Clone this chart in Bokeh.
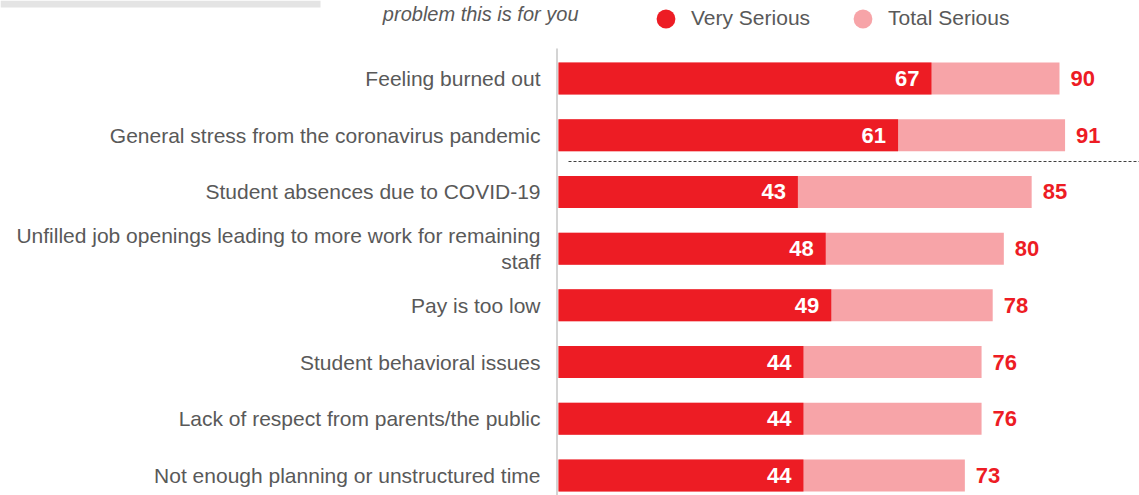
from bokeh.plotting import figure
from bokeh.models import ColumnDataSource, Range1d, Legend, LegendItem
from bokeh.core.properties import value
from bokeh.embed import file_html
from bokeh.resources import INLINE

categories = [
    "Feeling burned out",
    "General stress from the coronavirus pandemic",
    "Student absences due to COVID-19",
    "Unfilled job openings leading to more work for remaining\nstaff",
    "Pay is too low",
    "Student behavioral issues",
    "Lack of respect from parents/the public",
    "Not enough planning or unstructured time",
]
very_serious = [67, 61, 43, 48, 49, 44, 44, 44]
total_serious = [90, 91, 85, 80, 78, 76, 76, 73]
title_fragment = "problem this is for you"

RED = "#ED1C24"
PINK = "#F7A4A8"
GRAY_TEXT = "#595959"
FONT = value("Liberation Sans")

W, H = 1139, 495
x0_px = 558.0
sx = (1059.0 - 558.0) / 90.0
row0_px = 78.0
row_step = 56.71

def xd(px):
    return (px - x0_px) / sx

def yd(py):
    return (py - row0_px) / row_step

rows = list(range(len(categories)))
src = ColumnDataSource(dict(
    y=rows, cat=categories, very=very_serious, total=total_serious,
    very_txt=[str(v) for v in very_serious],
    total_txt=[str(v) for v in total_serious],
    zero=[0] * len(rows),
))

p = figure(width=W, height=H, output_backend="svg", toolbar_location=None,
           x_axis_type=None, y_axis_type=None, min_border=0,
           x_range=Range1d(xd(0), xd(W)), y_range=Range1d(yd(H), yd(0)))
p.outline_line_color = None
p.xgrid.visible = False
p.ygrid.visible = False
p.background_fill_color = "white"
p.border_fill_color = "white"

# top-left gray band (cropped header remnant)
p.quad(left=[xd(0)], right=[xd(320)], top=[yd(0)], bottom=[yd(7)],
       fill_color="#e4e4e4", line_color=None)

# title fragment
p.text(x=[xd(578)], y=[yd(2)], text=[title_fragment], text_align="right",
       text_baseline="top", text_font=FONT, text_font_size="20px",
       text_font_style="italic", text_color=GRAY_TEXT)

bar_h = 32.0 / row_step
r_total = p.hbar(y="y", left="zero", right="total", height=bar_h, source=src,
                 fill_color=PINK, line_color=None)
r_very = p.hbar(y="y", left="zero", right="very", height=bar_h, source=src,
                fill_color=RED, line_color=None)

# category axis line
p.segment(x0=[xd(556.5)], x1=[xd(556.5)], y0=[yd(48)], y1=[yd(H)],
          line_color="#d4d4d4", line_width=2)

# dashed separator
p.segment(x0=[xd(568)], x1=[xd(W)], y0=[yd(161)], y1=[yd(161)],
          line_color="#404040", line_width=1, line_dash="3 2")

# category labels
p.text(x=xd(540), y="y", text="cat", source=src, text_align="right",
       text_baseline="middle", text_font=FONT, text_font_size="21px",
       text_color=GRAY_TEXT, text_line_height=1.1)

# value labels
p.text(x="very", y="y", text="very_txt", source=src, x_offset=-12,
       text_align="right", text_baseline="middle", text_font=FONT,
       text_font_size="22px", text_font_style="bold", text_color="white")
p.text(x="total", y="y", text="total_txt", source=src, x_offset=11,
       text_align="left", text_baseline="middle", text_font=FONT,
       text_font_size="22px", text_font_style="bold", text_color=RED)

# legend with circle markers (marker renderers placed outside the view)
off = ColumnDataSource(dict(x=[xd(W) + 500], y=[yd(H) + 50]))
m_very = p.scatter(x="x", y="y", source=off, marker="circle", size=19,
                   fill_color=RED, line_color=None)
m_total = p.scatter(x="x", y="y", source=off, marker="circle", size=19,
                    fill_color=PINK, line_color=None)
legend = Legend(items=[LegendItem(label="Very Serious", renderers=[m_very]),
                       LegendItem(label="Total Serious", renderers=[m_total])],
                orientation="horizontal", location=(642, H - 18 - 23.5),
                glyph_width=47, glyph_height=47, label_standoff=2,
                spacing=29, padding=0, margin=0,
                border_line_color=None, background_fill_alpha=0,
                label_text_font="Liberation Sans", label_text_font_size="21px",
                label_text_color=GRAY_TEXT, label_text_baseline="middle")
p.add_layout(legend)

open("out.html", "w").write(file_html(p, INLINE))
